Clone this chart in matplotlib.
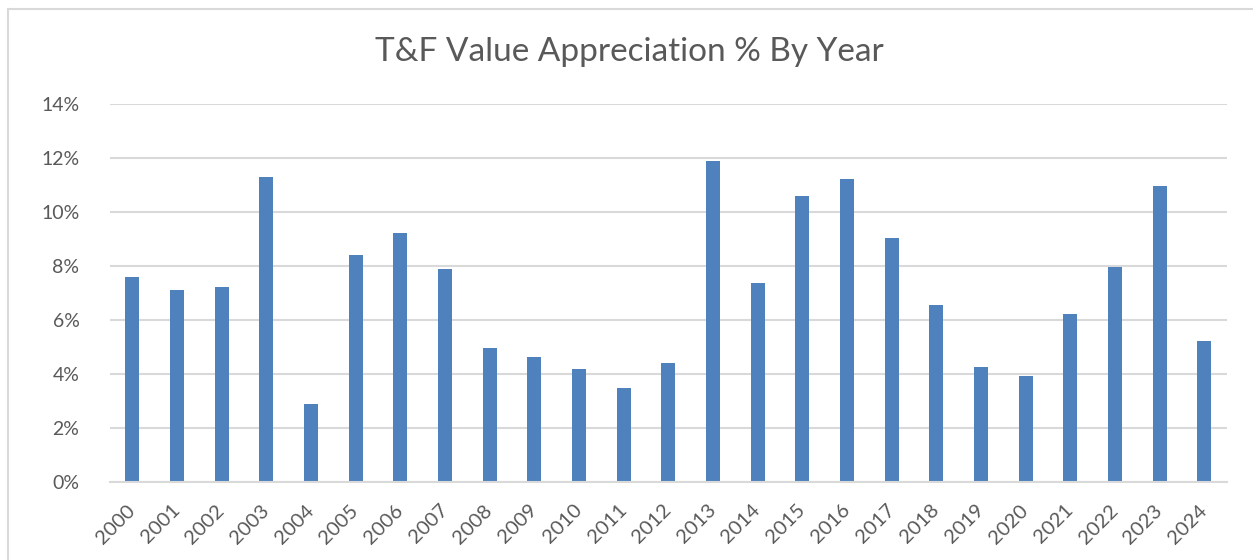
import matplotlib
matplotlib.use("Agg")
import matplotlib.pyplot as plt
from matplotlib.ticker import FuncFormatter, MultipleLocator
from matplotlib.lines import Line2D

years = [str(y) for y in range(2000, 2025)]
values = [7.60, 7.11, 7.22, 11.30, 2.88, 8.41, 9.21, 7.89, 4.95, 4.63,
          4.17, 3.46, 4.40, 11.90, 7.36, 10.61, 11.23, 9.05, 6.55, 4.25,
          3.91, 6.23, 7.98, 10.96, 5.21]

title = "T&F Value Appreciation % By Year"
text_color = "#595959"
bar_color = "#4F81BD"
grid_color = "#D9D9D9"

plt.rcParams['font.family'] = ['Lato', 'DejaVu Sans']

W, H = 1253, 560
fig = plt.figure(figsize=(W / 100, H / 100), dpi=100)
fig.patch.set_facecolor("white")

# outer chart border (left and top visible)
fig.add_artist(Line2D([7.5 / W, 7.5 / W], [0, 1 - 8.5 / H], transform=fig.transFigure,
                      color="#D9D9D9", lw=1.5))
fig.add_artist(Line2D([7.5 / W, 1], [1 - 8.5 / H, 1 - 8.5 / H], transform=fig.transFigure,
                      color="#D9D9D9", lw=1.5))

left, right = 110 / W, 1226.7 / W
bottom, top = 1 - 481.7 / H, 1 - 104.3 / H
ax = fig.add_axes([left, bottom, right - left, top - bottom])

x = list(range(len(years)))
ax.bar(x, values, width=0.31, color=bar_color, zorder=3)

ax.set_xlim(-0.5, len(years) - 0.5)
ax.set_ylim(0, 14)
ax.yaxis.set_major_locator(MultipleLocator(2))
ax.yaxis.set_major_formatter(FuncFormatter(lambda v, p: f"{v:.0f}%"))
ax.grid(axis="y", color=grid_color, lw=1.5, zorder=0)
ax.set_axisbelow(True)

for s in ["top", "right", "left"]:
    ax.spines[s].set_visible(False)
ax.spines["bottom"].set_color(grid_color)
ax.spines["bottom"].set_linewidth(1.5)
ax.spines["bottom"].set_zorder(4)

ax.set_xticks(x)
ax.set_xticklabels(years, rotation=45, ha="right", va="center", rotation_mode="anchor")
ax.tick_params(axis="x", length=0, pad=18.5, labelsize=14.5, labelcolor=text_color)
ax.tick_params(axis="y", length=0, pad=22, labelsize=14, labelcolor=text_color)

fig.text(629.5 / W, 1 - 52 / H, title, ha="center", va="center",
         fontsize=24, color=text_color)

fig.savefig("out.png", dpi=100, facecolor="white")
